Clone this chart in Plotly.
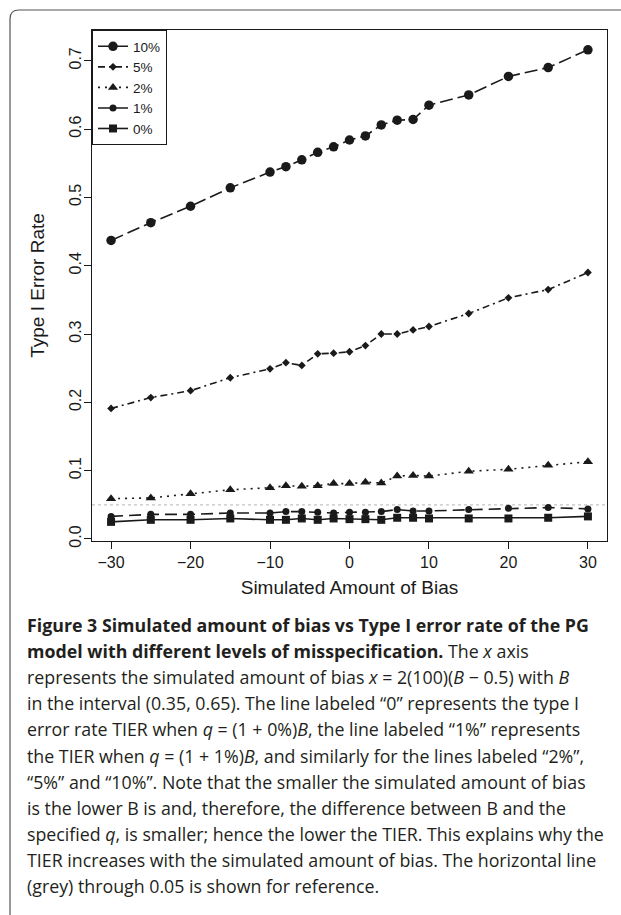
import plotly.graph_objects as go

# ---------------- data ----------------
bias = [-30, -25, -20, -15, -10, -8, -6, -4, -2, 0, 2, 4, 6, 8, 10, 15, 20, 25, 30]

tier_10 = [0.437, 0.463, 0.487, 0.514, 0.537, 0.545, 0.555, 0.566, 0.574, 0.584, 0.590,
           0.606, 0.613, 0.614, 0.635, 0.650, 0.677, 0.690, 0.716]
tier_5 = [0.191, 0.207, 0.217, 0.236, 0.249, 0.258, 0.254, 0.271, 0.272, 0.274, 0.283,
          0.300, 0.300, 0.306, 0.311, 0.330, 0.353, 0.365, 0.390]
tier_2 = [0.059, 0.060, 0.066, 0.072, 0.075, 0.078, 0.077, 0.078, 0.081, 0.081, 0.083,
          0.082, 0.092, 0.093, 0.092, 0.099, 0.102, 0.108, 0.113]
tier_1 = [0.033, 0.036, 0.036, 0.038, 0.038, 0.040, 0.040, 0.039, 0.038, 0.039, 0.039,
          0.040, 0.043, 0.041, 0.041, 0.043, 0.045, 0.046, 0.044]
tier_0 = [0.025, 0.028, 0.028, 0.030, 0.028, 0.028, 0.030, 0.028, 0.030, 0.029, 0.029,
          0.028, 0.031, 0.031, 0.030, 0.030, 0.030, 0.031, 0.033]

series_names = ["10%", "5%", "2%", "1%", "0%"]
series_values = [tier_10, tier_5, tier_2, tier_1, tier_0]

ref_level = 0.05
y_ticks = [0.0, 0.1, 0.2, 0.3, 0.4, 0.5, 0.6, 0.7]
x_ticks = [-30, -20, -10, 0, 10, 20, 30]

caption_lines = [
    "<b>Figure 3 Simulated amount of bias vs Type I error rate of the PG</b>",
    "<b>model with different levels of misspecification.</b> The <i>x</i> axis",
    "represents the simulated amount of bias <i>x</i> = 2(100)(<i>B</i> − 0.5) with <i>B</i>",
    "in the interval (0.35, 0.65). The line labeled “0” represents the type I",
    "error rate TIER when <i>q</i> = (1 + 0%)<i>B</i>, the line labeled “1%” represents",
    "the TIER when <i>q</i> = (1 + 1%)<i>B</i>, and similarly for the lines labeled “2%”,",
    "“5%” and “10%”. Note that the smaller the simulated amount of bias",
    "is the lower B is and, therefore, the difference between B and the",
    "specified <i>q</i>, is smaller; hence the lower the TIER. This explains why the",
    "TIER increases with the simulated amount of bias. The horizontal line",
    "(grey) through 0.05 is shown for reference.",
]

# ---------------- styles ----------------
W, H = 621, 915
ML, MR, MT, MB = 92, 14, 30, 374
PW = W - ML - MR
PH = H - MT - MB

ink = "#1a1a1a"
styles = [
    dict(dash="13px,5px", symbol="circle", size=9.5),
    dict(dash="7px,4px,2px,4px", symbol="diamond", size=6),
    dict(dash="2px,5px", symbol="triangle-up", size=9),
    dict(dash="12px,6px", symbol="circle", size=7),
    dict(dash="solid", symbol="square", size=8),
]

fig = go.Figure()
for name, vals, st in zip(series_names, series_values, styles):
    fig.add_trace(go.Scatter(
        x=bias, y=vals, name=name, mode="lines+markers",
        line=dict(color=ink, width=1.6, dash=st["dash"]),
        marker=dict(color=ink, symbol=st["symbol"], size=st["size"], line=dict(width=0)),
    ))

# grey reference line
fig.add_shape(type="line", xref="paper", yref="y", x0=0, x1=1, y0=ref_level, y1=ref_level,
              line=dict(color="#c4c4c4", width=1.2, dash="3px,3px"), layer="below")


def px2paper_x(px):
    return (px - ML) / PW


def px2paper_y(py):
    return (H - MB - py) / PH


# outer rounded frame
fx, fy, r = 10, 10, 9
x0 = px2paper_x(fx)
y_top = px2paper_y(fy)
y_bot = px2paper_y(H + 10)
x_right = px2paper_x(W + 10)
rx = r / PW
ry = r / PH
path = (f"M {x0},{y_bot} L {x0},{y_top - ry} Q {x0},{y_top} {x0 + rx},{y_top} "
        f"L {x_right},{y_top}")
fig.add_shape(type="path", xref="paper", yref="paper", path=path,
              line=dict(color="#555555", width=1.2))

# caption
cap_font = dict(family="'Open Sans', 'Noto Sans', sans-serif", size=17.8, color="#231f20")
y0_cap, dy = 625, 26.1
for i, line in enumerate(caption_lines):
    fig.add_annotation(
        text=line, xref="paper", yref="paper",
        x=px2paper_x(25), y=px2paper_y(y0_cap + i * dy),
        xanchor="left", yanchor="middle", showarrow=False, align="left",
        font=cap_font,
    )

axis_font = dict(family="Liberation Sans, Arial, sans-serif", size=16, color=ink)

fig.update_layout(
    width=W, height=H,
    margin=dict(l=ML, r=MR, t=MT, b=MB),
    paper_bgcolor="white", plot_bgcolor="white",
    font=axis_font,
    showlegend=True,
    legend=dict(
        x=0, y=1, xanchor="left", yanchor="top",
        bordercolor=ink, borderwidth=1, bgcolor="white",
        font=dict(family="Liberation Sans, Arial, sans-serif", size=13.5, color=ink),
        itemwidth=30, tracegroupgap=0,
    ),
    xaxis=dict(
        range=[-32.4, 32.4], tickvals=x_ticks, showgrid=False, zeroline=False,
        showline=True, linecolor=ink, linewidth=1, mirror=True,
        ticks="outside", ticklen=7, tickcolor=ink, tickwidth=1,
        tickfont=dict(size=16),
        title=dict(text="Simulated Amount of Bias", font=dict(size=19), standoff=10),
    ),
    yaxis=dict(
        range=[-0.003, 0.745], tickvals=y_ticks, tickformat=".1f",
        showgrid=False, zeroline=False,
        showline=True, linecolor=ink, linewidth=1, mirror=True,
        ticks="outside", ticklen=7, tickcolor=ink, tickwidth=1,
        tickangle=-90, tickfont=dict(size=16), ticklabelstandoff=-3,
        title=dict(text="Type I Error Rate", font=dict(size=19), standoff=16),
    ),
)

fig.write_html("out.html")
